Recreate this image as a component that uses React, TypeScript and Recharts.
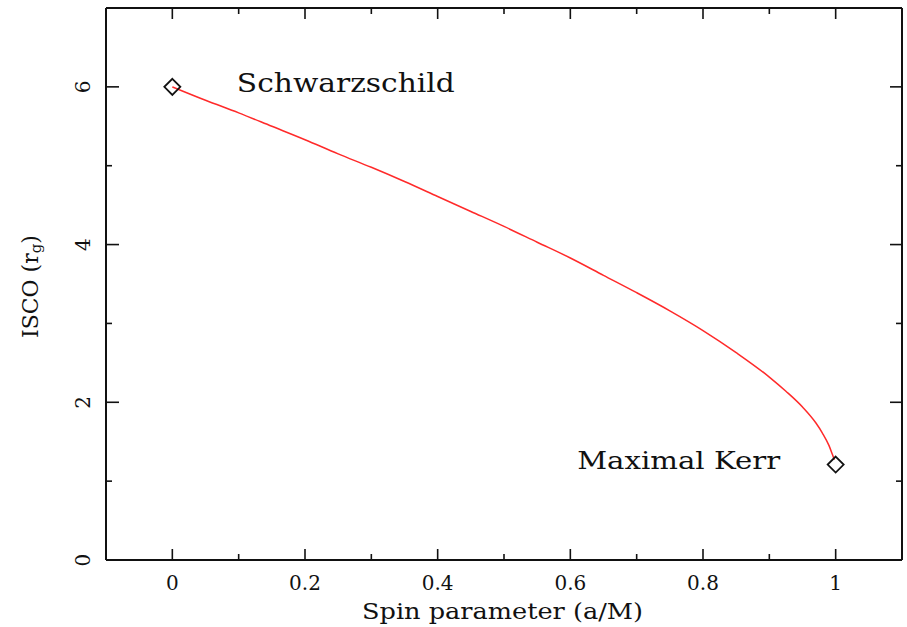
import React from 'react';
import { ComposedChart, Line, Scatter, XAxis, YAxis, LabelList } from 'recharts';

// ISCO curve
const spin = [0, 0.05, 0.1, 0.15, 0.2, 0.25, 0.3, 0.35, 0.4, 0.45, 0.5, 0.55, 0.6, 0.65, 0.7, 0.75, 0.8, 0.85, 0.9, 0.925, 0.95, 0.97, 0.98, 0.99, 0.995, 0.998];
const isco = [6.0, 5.83, 5.67, 5.5, 5.33, 5.15, 4.98, 4.8, 4.61, 4.42, 4.23, 4.03, 3.83, 3.61, 3.39, 3.16, 2.91, 2.63, 2.32, 2.14, 1.94, 1.74, 1.61, 1.45, 1.34, 1.27];

const endSpin = [0, 1];
const endIsco = [6.0, 1.21];
const endNames = ['Schwarzschild', 'Maximal Kerr'];

const xTicks = [0, 0.1, 0.2, 0.3, 0.4, 0.5, 0.6, 0.7, 0.8, 0.9, 1.0];
const xTickLabels = ['0', '', '0.2', '', '0.4', '', '0.6', '', '0.8', '', '1'];
const yTicks = [0, 1, 2, 3, 4, 5, 6];
const yTickLabels = ['0', '', '2', '', '4', '', '6'];

const curve = spin.map((s, i) => ({ x: s, y: isco[i] }));
const ends = endSpin.map((s, i) => ({ x: s, y: endIsco[i], name: endNames[i] }));

const FONT = '"DejaVu Serif", serif';
const INK = '#111';
const MAJOR = 11;
const MINOR = 6;

const BottomTick = (props: any) => {
  const { x, y, payload, index } = props;
  const label = xTickLabels[xTicks.indexOf(payload.value)] ?? '';
  const major = label !== '';
  return (
    <g>
      <line x1={x} x2={x} y1={y} y2={y - (major ? MAJOR : MINOR)} stroke={INK} strokeWidth={1.6} />
      {major && (
        <text x={x} y={y + 30} textAnchor="middle" fontFamily={FONT} fontSize={20} fill={INK}>
          {label}
        </text>
      )}
    </g>
  );
};

const TopTick = (props: any) => {
  const { x, y, payload } = props;
  const label = xTickLabels[xTicks.indexOf(payload.value)] ?? '';
  const major = label !== '';
  return <line x1={x} x2={x} y1={y} y2={y + (major ? MAJOR : MINOR)} stroke={INK} strokeWidth={1.6} />;
};

const LeftTick = (props: any) => {
  const { x, y, payload } = props;
  const label = yTickLabels[yTicks.indexOf(payload.value)] ?? '';
  const major = label !== '';
  return (
    <g>
      {payload.value !== 0 && (
        <line x1={x} x2={x + (major ? MAJOR + 2 : MINOR)} y1={y} y2={y} stroke={INK} strokeWidth={1.6} />
      )}
      {major && (
        <text
          x={x - 23}
          y={y}
          transform={`rotate(-90, ${x - 23}, ${y})`}
          textAnchor="middle"
          dominantBaseline="central"
          fontFamily={FONT}
          fontSize={20}
          fill={INK}
        >
          {label}
        </text>
      )}
    </g>
  );
};

const RightTick = (props: any) => {
  const { x, y, payload } = props;
  const label = yTickLabels[yTicks.indexOf(payload.value)] ?? '';
  const major = label !== '';
  if (payload.value === 0) return <g />;
  return <line x1={x} x2={x - (major ? MAJOR + 1 : MINOR)} y1={y} y2={y} stroke={INK} strokeWidth={1.6} />;
};

const Diamond = (props: any) => {
  const { cx, cy } = props;
  const r = 8;
  return (
    <path
      d={`M${cx},${cy - r} L${cx + r},${cy} L${cx},${cy + r} L${cx - r},${cy} Z`}
      fill="none"
      stroke={INK}
      strokeWidth={1.8}
    />
  );
};

const EndLabel = (props: any) => {
  const { x, y, value, index } = props;
  const cx = x;
  const cy = y;
  if (index === 0) {
    return (
      <text x={cx + 69} y={cy + 10} fontFamily={FONT} fontSize={26} fill={INK} textLength={218} lengthAdjust="spacingAndGlyphs">
        {value}
      </text>
    );
  }
  return (
    <text x={cx - 254} y={cy + 9} fontFamily={FONT} fontSize={25} fill={INK} textLength={203} lengthAdjust="spacingAndGlyphs">
      {value}
    </text>
  );
};

const XLabel = (props: any) => {
  const vb = props.viewBox;
  return (
    <text
      x={362}
      y={vb.y + 59}
      fontFamily={FONT}
      fontSize={22}
      fill={INK}
      textLength={281}
      lengthAdjust="spacingAndGlyphs"
    >
      Spin parameter (a/M)
    </text>
  );
};

const YLabel = (props: any) => {
  const cx = 30;
  const cy = 269;
  return (
    <text
      x={cx - 69}
      y={cy}
      transform={`rotate(-90, ${cx}, ${cy})`}
      dominantBaseline="central"
      fontFamily={FONT}
      fontSize={22}
      fill={INK}
    >
      ISCO (r
      <tspan dy={6} fontSize={15}>g</tspan>
      <tspan dy={-6}>)</tspan>
    </text>
  );
};

export default function App() {
  return (
    <div style={{ position: 'absolute', left: 0, top: 0, width: 907, height: 627, background: '#fff' }}>
      <ComposedChart width={907} height={627} margin={{ top: 0, right: 0, bottom: 0, left: 0 }}>
        <XAxis
          xAxisId="bottom"
          type="number"
          dataKey="x"
          domain={[-0.1, 1.1]}
          ticks={xTicks}
          interval={0}
          allowDataOverflow
          orientation="bottom"
          height={67}
          tickSize={0}
          tickMargin={0}
          tick={<BottomTick />}
          axisLine={{ stroke: INK, strokeWidth: 2 }}
          label={<XLabel />}
        />
        <XAxis
          xAxisId="top"
          type="number"
          dataKey="x"
          domain={[-0.1, 1.1]}
          ticks={xTicks}
          interval={0}
          allowDataOverflow
          orientation="top"
          height={8}
          tickSize={0}
          tickMargin={0}
          tick={<TopTick />}
          axisLine={{ stroke: INK, strokeWidth: 2 }}
        />
        <YAxis
          yAxisId="left"
          type="number"
          domain={[0, 7]}
          ticks={yTicks}
          interval={0}
          allowDataOverflow
          orientation="left"
          width={106}
          tickSize={0}
          tickMargin={0}
          tick={<LeftTick />}
          axisLine={{ stroke: INK, strokeWidth: 2 }}
          label={<YLabel />}
        />
        <YAxis
          yAxisId="right"
          type="number"
          domain={[0, 7]}
          ticks={yTicks}
          interval={0}
          allowDataOverflow
          orientation="right"
          width={5}
          tickSize={0}
          tickMargin={0}
          tick={<RightTick />}
          axisLine={{ stroke: INK, strokeWidth: 2 }}
        />
        <Line
          xAxisId="bottom"
          yAxisId="left"
          data={curve}
          dataKey="y"
          type="monotone"
          stroke="#ff2a2a"
          strokeWidth={1.5}
          dot={false}
          activeDot={false}
          isAnimationActive={false}
        />
        <Scatter
          xAxisId="bottom"
          yAxisId="left"
          data={ends}
          dataKey="y"
          shape={<Diamond />}
          isAnimationActive={false}
        >
          <LabelList dataKey="name" content={<EndLabel />} />
        </Scatter>
      </ComposedChart>
    </div>
  );
}
